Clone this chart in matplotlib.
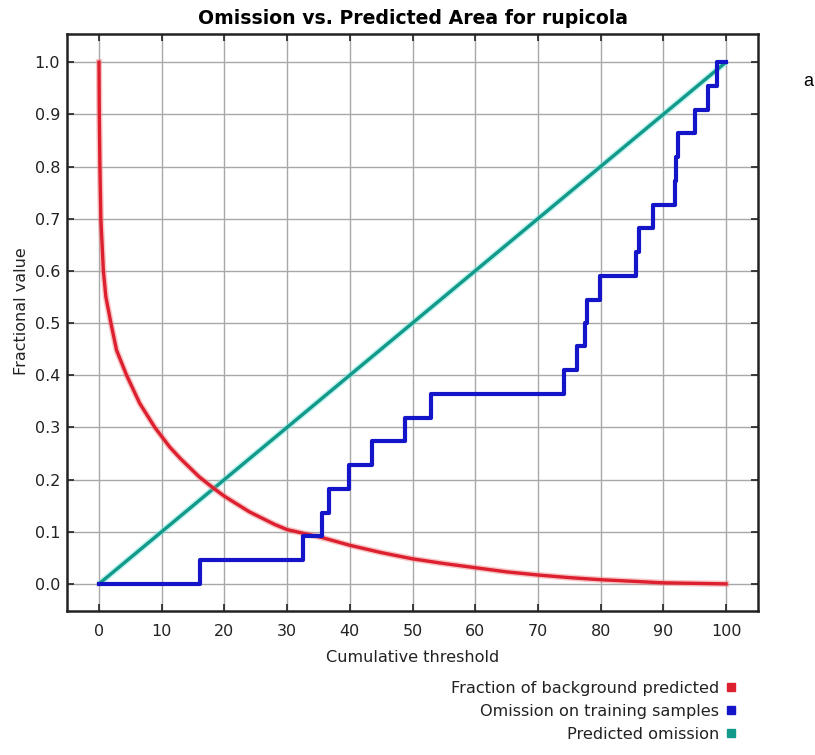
import matplotlib
matplotlib.use("Agg")
import matplotlib.pyplot as plt
from matplotlib.lines import Line2D

plt.rcParams['font.family'] = ['DejaVu Sans']

# Fraction of background predicted (red)
bg_x = [0, 0.05, 0.15, 0.3, 0.7, 1.1, 1.9, 2.8, 4.4, 6.5, 8.9, 11.3, 13, 16, 18.2, 20, 24, 28,
        30, 35.5, 40, 45, 50, 55, 60, 65, 70, 75, 80, 85, 90, 95, 100]
bg_y = [1.0, 0.9, 0.8, 0.7, 0.6, 0.55, 0.5, 0.448, 0.4, 0.346, 0.3, 0.262, 0.24, 0.205, 0.184, 0.168, 0.138, 0.114,
        0.104, 0.089, 0.074, 0.06, 0.048, 0.039, 0.031, 0.023, 0.017, 0.012, 0.008, 0.005, 0.002, 0.001, 0.0]

# Omission on training samples (blue, step)
om_x = [0, 16.1, 32.6, 35.6, 36.7, 39.9, 43.5, 48.8, 52.9, 74.1, 76.2, 77.5, 77.9, 79.9,
        85.7, 86.2, 88.4, 91.9, 92.1, 92.4, 95.1, 97.2, 98.5, 100]
om_y = [0, 0.0455, 0.0909, 0.136, 0.182, 0.227, 0.273, 0.318, 0.364, 0.409, 0.455, 0.5, 0.545, 0.591,
        0.636, 0.682, 0.727, 0.773, 0.818, 0.864, 0.909, 0.955, 1.0, 1.0]

# Predicted omission (teal)
pred_x = [0, 100]
pred_y = [0, 1]

x_ticks = [0, 10, 20, 30, 40, 50, 60, 70, 80, 90, 100]
y_ticks = [0.0, 0.1, 0.2, 0.3, 0.4, 0.5, 0.6, 0.7, 0.8, 0.9, 1.0]
legend_labels = ["Fraction of background predicted", "Omission on training samples", "Predicted omission"]

RED = '#dd2030'
BLUE = '#1414c8'
TEAL = '#12998a'
TXT = '#222222'

fig = plt.figure(figsize=(8.15, 7.55), dpi=100)
ax = fig.add_axes([67/815, 1-611/755, (758-67)/815, (611-34)/755])

ax.plot(pred_x, pred_y, color='#7fe8e0', lw=4.5, alpha=0.5, solid_capstyle='butt')
ax.plot(pred_x, pred_y, color=TEAL, lw=2.4)
ax.plot(bg_x, bg_y, color='#f08080', lw=4.5, alpha=0.45)
ax.plot(bg_x, bg_y, color=RED, lw=2.4)
ax.plot(om_x, om_y, color=BLUE, lw=3.0, drawstyle='steps-post')

ax.set_xlim(-5.1, 105.1)
ax.set_ylim(-0.052, 1.054)
ax.set_xticks(x_ticks)
ax.set_yticks(y_ticks)
ax.set_xticklabels([str(v) for v in x_ticks])
ax.set_yticklabels([f"{v:.1f}" for v in y_ticks])
ax.grid(True, color='#a8a8a8', lw=1.0)
ax.set_axisbelow(True)
ax.tick_params(direction='in', length=5, width=1.2, top=True, right=True,
               labelsize=11.5, colors=TXT)
ax.tick_params(axis='x', pad=9)
ax.tick_params(axis='y', pad=5)
for s in ax.spines.values():
    s.set_linewidth(1.8)
    s.set_color('#222222')

ax.set_title("Omission vs. Predicted Area for rupicola", fontsize=13.6, fontweight='bold', pad=7)
ax.set_xlabel("Cumulative threshold", fontsize=11.6, color=TXT, labelpad=8)
ax.set_ylabel("Fractional value", fontsize=11.5, color=TXT)
ax.yaxis.set_label_coords(-0.055, 0.52)

handles = [Line2D([], [], marker='s', ls='none', color=c, markersize=5.5) for c in (RED, BLUE, TEAL)]
fig.legend(handles, legend_labels, loc='upper right', bbox_to_anchor=(736/815, 1-681/755),
           frameon=False, markerfirst=False, fontsize=11.6, handlelength=0.6, handletextpad=0.45,
           labelspacing=0.5, borderpad=0, borderaxespad=0, labelcolor=TXT)

fig.text(808/815, 1-81/755, "a", fontsize=13, ha='center', va='center', family='Liberation Sans')

fig.savefig("out.png", dpi=100)
